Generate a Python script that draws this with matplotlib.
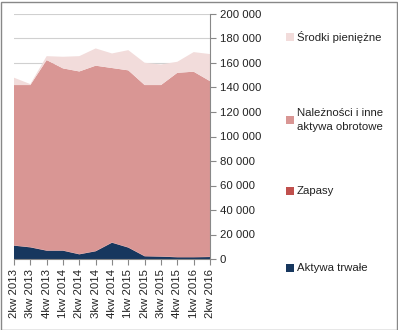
import numpy as np
import matplotlib.pyplot as plt
from matplotlib.patches import Rectangle

quarters = ["2kw 2013", "3kw 2013", "4kw 2013", "1kw 2014", "2kw 2014", "3kw 2014",
            "4kw 2014", "1kw 2015", "2kw 2015", "3kw 2015", "4kw 2015", "1kw 2016", "2kw 2016"]
aktywa_trwale = [10900, 9500, 6800, 6800, 3800, 6300, 13300, 9300, 2200, 1900, 1400, 1400, 1600]
zapasy = [200, 200, 200, 200, 200, 200, 200, 200, 200, 200, 200, 200, 200]
naleznosci = [130900, 132300, 155400, 148600, 149100, 151300, 142400, 144500, 139600, 139900, 150400, 151300, 143400]
srodki = [6000, 800, 3200, 9500, 12500, 14100, 11900, 16500, 18200, 16800, 9000, 16000, 22100]

labels = ["Aktywa trwałe", "Zapasy", "Należności i inne\naktywa obrotowe", "Środki pieniężne"]
colors = ["#17375E", "#C0504D", "#D99694", "#F2DCDB"]
yticks = [0, 20000, 40000, 60000, 80000, 100000, 120000, 140000, 160000, 180000, 200000]

plt.rcParams['font.family'] = ['Liberation Sans', 'DejaVu Sans']

fig = plt.figure(figsize=(3.98, 3.30), dpi=100)
ax = fig.add_axes([14/398, 1-259/330, 196/398, 245/330])

x = np.arange(len(quarters))
ax.stackplot(x, aktywa_trwale, zapasy, naleznosci, srodki, colors=colors, linewidth=0, zorder=2)

ax.set_xlim(0, len(quarters)-1)
ax.set_ylim(0, 200000)
ax.set_yticks(yticks)
ax.set_yticklabels(["{:,}".format(v).replace(",", " ") for v in yticks], fontsize=8.2, color="#222222")
ax.yaxis.tick_right()
ax.grid(axis="y", color="#D0D0D0", linewidth=0.8, zorder=0)
ax.set_axisbelow(True)
ax.set_xticks(x)
ax.set_xticklabels(quarters, rotation=90, fontsize=8.2, color="#222222")
for s in ["top", "left"]:
    ax.spines[s].set_visible(False)
for s in ["right", "bottom"]:
    ax.spines[s].set_color("#888888")
ax.tick_params(axis="both", color="#888888", length=4, pad=3)

# legend
leg_y = [37, 120, 191, 268]
for lab, col, yy in zip(labels[::-1], colors[::-1], leg_y):
    fig.patches.append(Rectangle((286/398, 1-(yy+4)/330), 8/398, 8/330,
                                 transform=fig.transFigure, facecolor=col, edgecolor="none"))
    fig.text(297/398, 1-yy/330, lab, fontsize=8.2, va="center", ha="left",
             color="#222222", linespacing=1.6)

fig.patches.append(Rectangle((0.5/398, 0.5/330), 396/398, 328/330, transform=fig.transFigure,
                             facecolor="none", edgecolor="#888888", linewidth=1))

fig.savefig("out.png", dpi=100)
